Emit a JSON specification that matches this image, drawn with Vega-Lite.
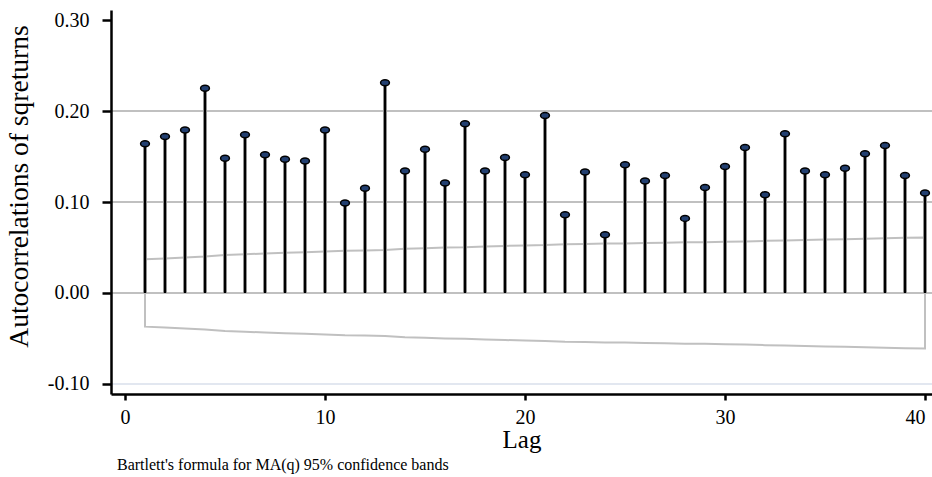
{
  "$schema": "https://vega.github.io/schema/vega-lite/v6.json",
  "width": 821,
  "height": 384,
  "autosize": {"type": "none"},
  "padding": {"left": 111, "top": 10, "right": 0, "bottom": 83},
  "background": "white",
  "config": {
    "view": {"stroke": null},
    "font": "Liberation Serif"
  },
  "title": {
    "text": "Bartlett's formula for MA(q) 95% confidence bands",
    "orient": "bottom",
    "anchor": "start",
    "frame": "group",
    "font": "Liberation Serif",
    "fontSize": 16,
    "fontWeight": "normal",
    "color": "#000000",
    "offset": 5,
    "dx": 6
  },
  "datasets": {
    "acf": [
      {"lag": 1, "ac": 0.164, "upper": 0.0370, "lower": -0.0370},
      {"lag": 2, "ac": 0.172, "upper": 0.0380, "lower": -0.0380},
      {"lag": 3, "ac": 0.179, "upper": 0.0390, "lower": -0.0390},
      {"lag": 4, "ac": 0.225, "upper": 0.0401, "lower": -0.0401},
      {"lag": 5, "ac": 0.148, "upper": 0.0418, "lower": -0.0418},
      {"lag": 6, "ac": 0.174, "upper": 0.0425, "lower": -0.0425},
      {"lag": 7, "ac": 0.152, "upper": 0.0435, "lower": -0.0435},
      {"lag": 8, "ac": 0.147, "upper": 0.0442, "lower": -0.0442},
      {"lag": 9, "ac": 0.145, "upper": 0.0449, "lower": -0.0449},
      {"lag": 10, "ac": 0.179, "upper": 0.0455, "lower": -0.0455},
      {"lag": 11, "ac": 0.099, "upper": 0.0465, "lower": -0.0465},
      {"lag": 12, "ac": 0.115, "upper": 0.0468, "lower": -0.0468},
      {"lag": 13, "ac": 0.231, "upper": 0.0472, "lower": -0.0472},
      {"lag": 14, "ac": 0.134, "upper": 0.0487, "lower": -0.0487},
      {"lag": 15, "ac": 0.158, "upper": 0.0492, "lower": -0.0492},
      {"lag": 16, "ac": 0.121, "upper": 0.0499, "lower": -0.0499},
      {"lag": 17, "ac": 0.186, "upper": 0.0503, "lower": -0.0503},
      {"lag": 18, "ac": 0.134, "upper": 0.0512, "lower": -0.0512},
      {"lag": 19, "ac": 0.149, "upper": 0.0517, "lower": -0.0517},
      {"lag": 20, "ac": 0.130, "upper": 0.0523, "lower": -0.0523},
      {"lag": 21, "ac": 0.195, "upper": 0.0527, "lower": -0.0527},
      {"lag": 22, "ac": 0.086, "upper": 0.0537, "lower": -0.0537},
      {"lag": 23, "ac": 0.133, "upper": 0.0539, "lower": -0.0539},
      {"lag": 24, "ac": 0.064, "upper": 0.0543, "lower": -0.0543},
      {"lag": 25, "ac": 0.141, "upper": 0.0544, "lower": -0.0544},
      {"lag": 26, "ac": 0.123, "upper": 0.0549, "lower": -0.0549},
      {"lag": 27, "ac": 0.129, "upper": 0.0553, "lower": -0.0553},
      {"lag": 28, "ac": 0.082, "upper": 0.0557, "lower": -0.0557},
      {"lag": 29, "ac": 0.116, "upper": 0.0559, "lower": -0.0559},
      {"lag": 30, "ac": 0.139, "upper": 0.0562, "lower": -0.0562},
      {"lag": 31, "ac": 0.160, "upper": 0.0567, "lower": -0.0567},
      {"lag": 32, "ac": 0.108, "upper": 0.0573, "lower": -0.0573},
      {"lag": 33, "ac": 0.175, "upper": 0.0576, "lower": -0.0576},
      {"lag": 34, "ac": 0.134, "upper": 0.0583, "lower": -0.0583},
      {"lag": 35, "ac": 0.130, "upper": 0.0587, "lower": -0.0587},
      {"lag": 36, "ac": 0.137, "upper": 0.0591, "lower": -0.0591},
      {"lag": 37, "ac": 0.153, "upper": 0.0595, "lower": -0.0595},
      {"lag": 38, "ac": 0.162, "upper": 0.0601, "lower": -0.0601},
      {"lag": 39, "ac": 0.129, "upper": 0.0607, "lower": -0.0607},
      {"lag": 40, "ac": 0.110, "upper": 0.0610, "lower": -0.0610}
    ],
    "grid": [{"g": 0.0}, {"g": 0.1}, {"g": 0.2}],
    "gridlow": [{"g": -0.1}]
  },
  "layer": [
    {
      "data": {"name": "acf"},
      "mark": {"type": "rule", "stroke": "#000000", "strokeWidth": 2.5},
      "encoding": {
        "x": {
          "field": "lag",
          "type": "quantitative",
          "scale": {"domain": [-0.7, 40.35], "nice": false, "zero": false},
          "axis": {
            "title": "Lag",
            "values": [0, 10, 20, 30, 40],
            "format": "d",
            "grid": false,
            "domainColor": "#000000",
            "domainWidth": 2.5,
            "tickColor": "#000000",
            "tickWidth": 2.5,
            "tickSize": 6,
            "labelFont": "Liberation Serif",
            "labelFontSize": 20,
            "labelColor": "#000000",
            "labelPadding": 7,
            "labelFlush": 10,
            "labelOverlap": false,
            "titleFont": "Liberation Serif",
            "titleFontSize": 25,
            "titleFontWeight": "normal",
            "titleColor": "#000000",
            "titleBaseline": "alphabetic",
            "titleY": 53,
            "zindex": 1
          }
        },
        "y": {
          "field": "ac",
          "type": "quantitative",
          "scale": {"domain": [-0.111, 0.311], "nice": false, "zero": false},
          "axis": {
            "title": "Autocorrelations of sqreturns",
            "values": [-0.1, 0, 0.1, 0.2, 0.3],
            "labelExpr": "datum.value < 0 ? '-' + format(-datum.value, '.2f') : format(datum.value, '.2f')",
            "grid": false,
            "domainColor": "#000000",
            "domainWidth": 2.5,
            "tickColor": "#000000",
            "tickWidth": 2.5,
            "tickSize": 9,
            "labelFont": "Liberation Serif",
            "labelFontSize": 20,
            "labelColor": "#000000",
            "labelPadding": 13,
            "labelFlush": false,
            "labelOverlap": false,
            "titleFont": "Liberation Serif",
            "titleFontSize": 27.5,
            "titleFontWeight": "normal",
            "titleColor": "#000000",
            "titleBaseline": "alphabetic",
            "titleAngle": 270,
            "titleX": -84,
            "titleY": 176,
            "zindex": 1
          }
        },
        "y2": {"datum": 0}
      }
    },
    {
      "data": {"name": "gridlow"},
      "mark": {"type": "rule", "stroke": "#e2e7f0", "strokeWidth": 2},
      "encoding": {
        "y": {"field": "g", "type": "quantitative"}
      }
    },
    {
      "data": {"name": "grid"},
      "mark": {"type": "rule", "stroke": "#c0c0c0", "strokeWidth": 2.2},
      "encoding": {
        "y": {"field": "g", "type": "quantitative"}
      }
    },
    {
      "data": {"name": "acf"},
      "mark": {"type": "area", "fill": "white", "fillOpacity": 0, "stroke": "#c0c0c0", "strokeWidth": 2, "interpolate": "linear"},
      "encoding": {
        "x": {"field": "lag", "type": "quantitative"},
        "y": {"field": "upper", "type": "quantitative"},
        "y2": {"field": "lower"}
      }
    },
    {
      "data": {"name": "acf"},
      "mark": {"type": "rule", "stroke": "#000000", "strokeWidth": 2.5},
      "encoding": {
        "x": {"field": "lag", "type": "quantitative"},
        "y": {"field": "ac", "type": "quantitative"},
        "y2": {"datum": 0}
      }
    },
    {
      "data": {"name": "acf"},
      "mark": {
        "type": "point",
        "shape": "M -1 0 A 1 0.68 0 1 1 1 0 A 1 0.68 0 1 1 -1 0 Z",
        "filled": true,
        "fill": "#223f70",
        "stroke": "#000000",
        "strokeWidth": 1.5,
        "size": 78,
        "opacity": 1
      },
      "encoding": {
        "x": {"field": "lag", "type": "quantitative"},
        "y": {"field": "ac", "type": "quantitative"}
      }
    }
  ]
}
